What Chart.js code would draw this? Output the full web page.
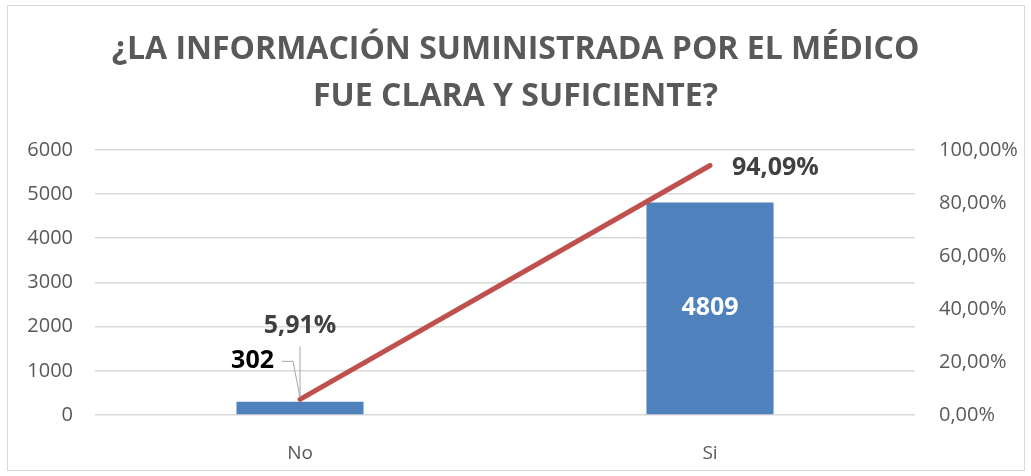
<!DOCTYPE html>
<html>
<head>
<meta charset="utf-8">
<script src="https://cdn.jsdelivr.net/npm/chart.js@4/dist/chart.umd.min.js"></script>
<style>
    html, body { margin: 0; padding: 0; background: #fff; }
    #wrap { position: relative; width: 1031px; height: 476px; }
    #frame { position: absolute; left: 7px; top: 5px; width: 1016px; height: 464px; border: 1px solid #d9d9d9; pointer-events: none; }
</style>
</head>
<body>
<div id="wrap">
    <canvas id="chart" width="1031" height="476"></canvas>
    <div id="frame"></div>
</div>
<script>
// ---- Data ----
const categories = ['No', 'Si'];
const counts = [302, 4809];
const percents = [5.91, 94.09];
const titleLines = ['¿LA INFORMACIÓN SUMINISTRADA POR EL MÉDICO', 'FUE CLARA Y SUFICIENTE?'];

const FONT = "'Open Sans', sans-serif";
const GRID = '#d9d9d9';
const TICK = '#595959';

const fmtPct = v => v.toFixed(2).replace('.', ',') + '%';

// ---- Data labels (drawn by hand, Excel style) ----
const labelPlugin = {
    id: 'labels',
    afterDatasetsDraw(chart) {
        const ctx = chart.ctx;
        const bars = chart.getDatasetMeta(1).data;
        const pts = chart.getDatasetMeta(0).data;
        ctx.save();
        ctx.textBaseline = 'middle';

        // No: leader lines
        const p0 = pts[0];
        ctx.strokeStyle = '#a6a6a6';
        ctx.lineWidth = 1;
        ctx.beginPath();
        ctx.moveTo(p0.x - 18, p0.y - 38);
        ctx.lineTo(p0.x - 7, p0.y - 38);
        ctx.lineTo(p0.x, p0.y - 2);
        ctx.moveTo(p0.x, p0.y - 53);
        ctx.lineTo(p0.x, p0.y - 2);
        ctx.stroke();

        ctx.font = 'bold 25px ' + FONT;
        ctx.fillStyle = '#000';
        ctx.textAlign = 'right';
        ctx.fillText(String(counts[0]), p0.x - 26, p0.y - 38);

        ctx.fillStyle = '#404040';
        ctx.textAlign = 'center';
        ctx.fillText(fmtPct(percents[0]), p0.x, p0.y - 73);

        // Si
        const b1 = bars[1];
        ctx.fillStyle = '#fff';
        ctx.textAlign = 'center';
        ctx.fillText(String(counts[1]), b1.x, (b1.y + b1.base) / 2);

        const p1 = pts[1];
        ctx.fillStyle = '#404040';
        ctx.textAlign = 'left';
        ctx.fillText(fmtPct(percents[1]), p1.x + 22, p1.y + 2);

        ctx.restore();
    }
};

new Chart(document.getElementById('chart'), {
    data: {
        labels: categories,
        datasets: [
            {
                type: 'line',
                data: percents,
                yAxisID: 'y1',
                borderColor: '#c0504d',
                borderWidth: 5,
                borderCapStyle: 'round',
                pointRadius: 0,
                order: 0
            },
            {
                type: 'bar',
                data: counts,
                yAxisID: 'y',
                backgroundColor: '#4f81bd',
                barPercentage: 0.31,
                categoryPercentage: 1,
                order: 1
            }
        ]
    },
    options: {
        responsive: false,
        animation: false,
        layout: { padding: { top: 0, bottom: 0, left: 0, right: 0 } },
        plugins: {
            legend: { display: false },
            tooltip: { enabled: false },
            title: {
                display: true,
                text: titleLines,
                color: '#595959',
                font: { family: FONT, size: 32, weight: 'bold', lineHeight: 1.45 },
                padding: { top: 27, bottom: 30 }
            }
        },
        scales: {
            x: {
                grid: { display: false },
                border: { display: false },
                ticks: { color: TICK, font: { family: FONT, size: 19 }, padding: 19 },
                afterFit: s => { s.height = 61; }
            },
            y: {
                position: 'left',
                min: 0, max: 6000,
                ticks: { stepSize: 1000, color: TICK, font: { family: FONT, size: 20 }, padding: 22, callback: v => String(v) },
                grid: { color: GRID, lineWidth: 1.5, drawTicks: false },
                border: { display: false },
                afterFit: s => { s.width = 95; }
            },
            y1: {
                position: 'right',
                min: 0, max: 100,
                ticks: { stepSize: 20, color: TICK, font: { family: FONT, size: 20 }, padding: 24, callback: v => fmtPct(v) },
                grid: { display: false, drawTicks: false },
                border: { display: false },
                afterFit: s => { s.width = 116; }
            }
        }
    },
    plugins: [labelPlugin]
});
</script>
</body>
</html>
